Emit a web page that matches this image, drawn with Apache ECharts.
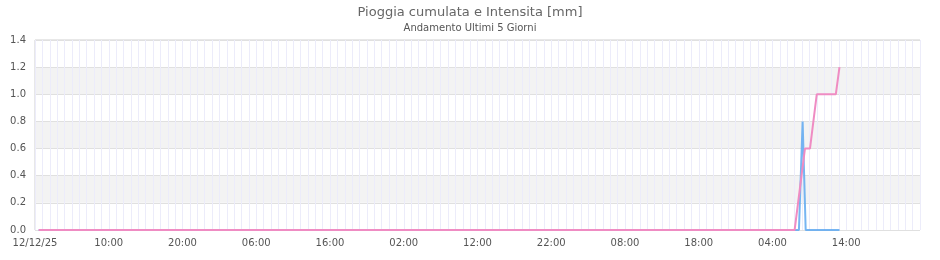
<!DOCTYPE html>
<html>
<head>
<meta charset="utf-8">
<script src="https://cdn.jsdelivr.net/npm/echarts@6/dist/echarts.min.js"></script>
<style>html,body{margin:0;padding:0;background:#fff;}#c{width:940px;height:260px;}</style>
</head>
<body>
<div id="c"></div>
<script>
// Axis range: 12/12/25 00:00 -> 17/12/25 00:00 (hours)
const startLabel = '12/12/25';
const xTickHours = [0, 10, 20, 30, 40, 50, 60, 70, 80, 90, 100, 110];
const yTicks = [0, 0.2, 0.4, 0.6, 0.8, 1.0, 1.2, 1.4];

// Pioggia cumulata [mm]
const cumTimes = ['12 00:30', '16 07:00', '16 08:24', '16 09:05', '16 10:00', '16 12:35', '16 13:05'];
const cumValues = [0, 0, 0.6, 0.6, 1.0, 1.0, 1.2];

// Intensita [mm]
const intTimes = ['12 00:30', '16 07:35', '16 08:05', '16 08:30', '16 13:05'];
const intValues = [0, 0, 0.8, 0, 0];

function toHours(s) {
  const [d, hm] = s.split(' ');
  const [h, m] = hm.split(':').map(Number);
  return (Number(d) - 12) * 24 + h + m / 60;
}
const cumData = cumTimes.map((t, i) => [toHours(t), cumValues[i]]);
const intData = intTimes.map((t, i) => [toHours(t), intValues[i]]);

const chart = echarts.init(document.getElementById('c'), null, {renderer: 'canvas'});
chart.setOption({
  animation: false,
  textStyle: {fontFamily: 'DejaVu Sans'},
  title: {
    text: 'Pioggia cumulata e Intensita [mm]',
    subtext: 'Andamento Ultimi 5 Giorni',
    left: 'center',
    top: 1,
    itemGap: 4,
    textStyle: {fontFamily: 'DejaVu Sans', fontSize: 13, fontWeight: 'normal', color: '#666'},
    subtextStyle: {fontFamily: 'DejaVu Sans', fontSize: 10, color: '#555'}
  },
  grid: {left: 35, right: 20, top: 40, bottom: 30, show: true, borderColor: '#d0d0d0', borderWidth: 1, backgroundColor: 'transparent'},
  xAxis: {
    type: 'value',
    min: 0,
    max: 120,
    interval: 1,
    axisLine: {show: false},
    axisTick: {show: false},
    axisLabel: {
      fontFamily: 'DejaVu Sans', fontSize: 10, color: '#555', margin: 8,
      showMaxLabel: false,
      formatter: function (v) {
        if (xTickHours.indexOf(v) < 0) return '';
        if (v === 0) return startLabel;
        const h = v % 24;
        return (h < 10 ? '0' : '') + h + ':00';
      }
    },
    splitLine: {show: true, lineStyle: {color: '#ececfa', width: 1}}
  },
  yAxis: {
    type: 'value',
    min: 0,
    max: 1.4,
    interval: 0.2,
    axisLine: {show: false},
    axisTick: {show: false},
    axisLabel: {fontFamily: 'DejaVu Sans', fontSize: 10, color: '#555', margin: 9,
      formatter: v => v.toFixed(1)},
    splitLine: {show: true, lineStyle: {color: '#e0e0e0', width: 1}},
    splitArea: {show: true, areaStyle: {color: ['#ffffff', '#f3f3f3']}}
  },
  series: [
    {
      name: 'Intensita',
      type: 'line',
      data: intData,
      showSymbol: false,
      symbol: 'none',
      lineStyle: {color: '#5ea8f0', width: 2, opacity: 0.85},
      itemStyle: {color: '#5ea8f0'},
      z: 2
    },
    {
      name: 'Pioggia cumulata',
      type: 'line',
      data: cumData,
      showSymbol: false,
      symbol: 'none',
      lineStyle: {color: '#ef8cc3', width: 2},
      itemStyle: {color: '#ef8cc3'},
      z: 3
    }
  ]
});
</script>
</body>
</html>
